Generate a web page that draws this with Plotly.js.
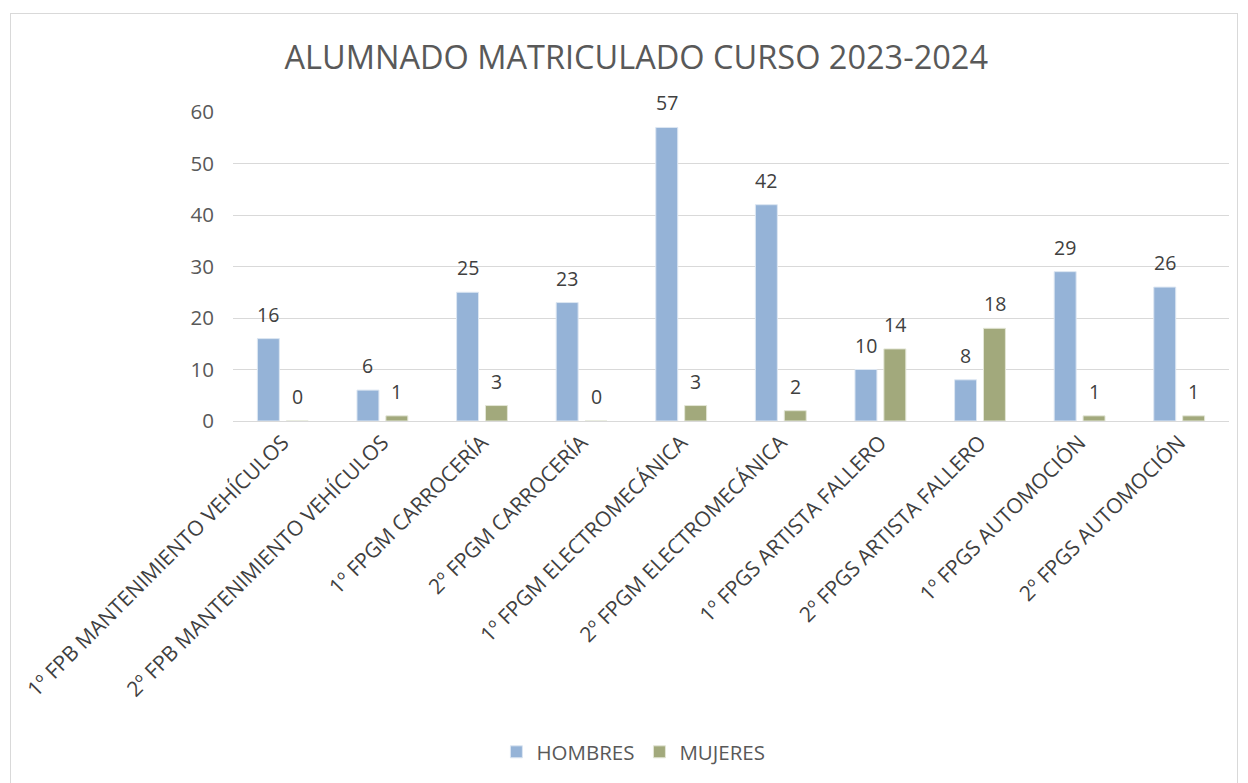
<!DOCTYPE html>
<html>
<head>
<meta charset="utf-8">
<script src="https://cdn.plot.ly/plotly-3.0.1.min.js"></script>
<style>
html,body{margin:0;padding:0;background:#fff;overflow:hidden;width:1248px;height:783px;}
#frame{position:absolute;left:10px;top:13px;width:1228px;height:790px;border:1px solid #d9d9d9;box-sizing:border-box;}
#chart{position:absolute;left:0;top:0;width:1226px;height:770px;}
</style>
</head>
<body>
<div id="frame"><div id="chart"></div></div>
<script>
const categories = [
  "1º FPB MANTENIMIENTO VEHÍCULOS",
  "2º FPB MANTENIMIENTO VEHÍCULOS",
  "1º FPGM CARROCERÍA",
  "2º FPGM CARROCERÍA",
  "1º FPGM ELECTROMECÁNICA",
  "2º FPGM ELECTROMECÁNICA",
  "1º FPGS ARTISTA FALLERO",
  "2º FPGS ARTISTA FALLERO",
  "1º FPGS AUTOMOCIÓN",
  "2º FPGS AUTOMOCIÓN"
];
const hombres = [16, 6, 25, 23, 57, 42, 10, 8, 29, 26];
const mujeres = [0, 1, 3, 0, 3, 2, 14, 18, 1, 1];
const seriesNames = ["HOMBRES", "MUJERES"];
const yTicks = [0, 10, 20, 30, 40, 50, 60];

const blue = "#95B3D7", green = "#A2A97C";
const font = "Open Sans, Liberation Sans, sans-serif";

const traces = [
  {type:"bar", name:seriesNames[0], x:categories, y:hombres,
   marker:{color:blue, line:{color:"#dce6f2", width:1}}},
  {type:"bar", name:seriesNames[1], x:categories, y:mujeres,
   marker:{color:green, line:{color:"#e3e6d6", width:1}}}
];

const annotations = [];
[hombres, mujeres].forEach((arr, si) => {
  arr.forEach((v, i) => {
    annotations.push({x:categories[i], y:v, xref:"x", yref:"y", text:String(v),
      showarrow:false, yanchor:"bottom", yshift:9, xshift: si===0 ? -14.5 : 14.5,
      font:{family:font, size:19.5, color:"#404040"}});
  });
});

const layout = {
  width:1226, height:770,
  margin:{l:222, r:8, t:98, b:363},
  paper_bgcolor:"#fff", plot_bgcolor:"#fff",
  title:{text:"ALUMNADO MATRICULADO CURSO 2023-2024", x:0.51, xanchor:"center",
         y:1-44/770, yanchor:"middle", yref:"container",
         font:{family:font, size:32.5, color:"#595959"}},
  barmode:"group", bargap:0.42, bargroupgap:0.24,
  xaxis:{type:"category", tickangle:-45, showgrid:false, zeroline:false,
         showline:true, linecolor:"#d9d9d9", ticks:"",
         tickfont:{family:font, size:21, color:"#404040"}},
  yaxis:{range:[0,60], tickvals:yTicks, showgrid:true, gridcolor:"#d9d9d9", gridwidth:1,
         zeroline:false, showline:false, ticks:"", ticklabelstandoff:18,
         tickfont:{family:font, size:20.5, color:"#595959"}},
  showlegend:true,
  legend:{orientation:"h", x:0.402, xanchor:"center", y:(407-738)/309, yanchor:"middle",
          font:{family:font, size:20.5, color:"#595959"}, itemwidth:30, traceorder:"normal"},
  annotations:annotations
};
Plotly.newPlot("chart", traces, layout, {displayModeBar:false, staticPlot:true});
</script>
</body>
</html>
